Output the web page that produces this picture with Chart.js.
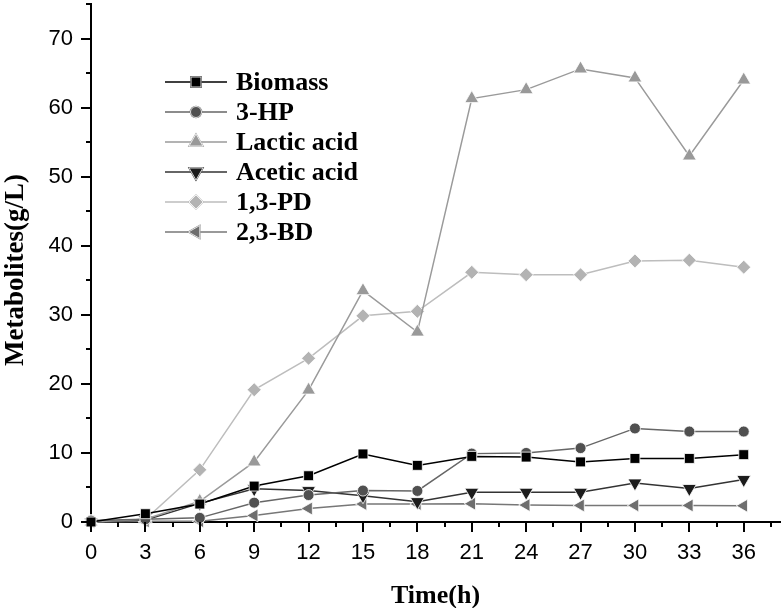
<!DOCTYPE html>
<html lang="en">
<head>
  <meta charset="UTF-8">
  <title>Metabolites over time</title>
  <script src="https://cdn.jsdelivr.net/npm/chart.js"></script>
  <style>
    body { margin: 0; background: #fff; }
    canvas { display: block; }
  </style>
</head>
<body>
  <canvas id="graph" width="783" height="608"></canvas>

  <script>
    // values
    const hours = [0, 3, 6, 9, 12, 15, 18, 21, 24, 27, 30, 33, 36];
    const biomass = [0, 1.2, 2.6, 5.2, 6.7, 9.85, 8.2, 9.5, 9.4, 8.7, 9.2, 9.2, 9.75];
    const hp3 = [0.2, 0.4, 0.6, 2.8, 3.9, 4.55, 4.5, 9.9, 10.0, 10.7, 13.55, 13.1, 13.1];
    const lactic = [0, 0.4, 3.0, 8.7, 19.1, 33.5, 27.5, 61.3, 62.6, 65.6, 64.3, 53.0, 64.0];
    const acetic = [0, 0.3, 2.7, 4.8, 4.55, 3.8, 2.95, 4.3, 4.3, 4.3, 5.65, 4.85, 6.15];
    const pd13 = [0, 0.4, 7.55, 19.15, 23.7, 29.85, 30.5, 36.15, 35.8, 35.8, 37.8, 37.9, 36.9];
    const bd23 = [0, 0.1, 0.1, 0.95, 1.95, 2.6, 2.6, 2.65, 2.45, 2.4, 2.4, 2.4, 2.35];

    const xTicks = [0, 3, 6, 9, 12, 15, 18, 21, 24, 27, 30, 33, 36];
    const yTicks = [0, 10, 20, 30, 40, 50, 60, 70];
    const yTitle = 'Metabolites(g/L)';

    const serif = '"Liberation Serif", "Times New Roman", serif';
    const sans = '"Liberation Sans", Arial, sans-serif';

    function serie(label, values, line, fill, style, radius, rotation) {
      return {
        label: label,
        data: hours.map((h, i) => ({ x: h, y: values[i] })),
        borderColor: line,
        borderWidth: 1.5,
        pointStyle: style,
        pointRadius: radius,
        pointRotation: rotation || 0,
        pointBackgroundColor: fill,
        pointBorderColor: '#fff',
        pointBorderWidth: 0.8,
        tension: 0,
        clip: false
      };
    }

    const datasets = [
      serie('Biomass', biomass, '#000', '#000', 'rect', 7),
      serie('3-HP', hp3, '#666', '#505050', 'circle', 5.5),
      serie('Lactic acid', lactic, '#9a9a9a', '#999', 'triangle', 8),
      serie('Acetic acid', acetic, '#333', '#1c1c1c', 'triangle', 8, 180),
      serie('1,3-PD', pd13, '#bdbdbd', '#b3b3b3', 'rectRot', 7),
      serie('2,3-BD', bd23, '#777', '#6e6e6e', 'triangle', 7.5, 270)
    ];

    // tick marks (major + minor) drawn on the outside of the axes, plus y title
    const tickMarks = {
      id: 'tickMarks',
      afterDraw(chart) {
        const ctx = chart.ctx;
        const xs = chart.scales.x, ys = chart.scales.y;
        const area = chart.chartArea;
        ctx.save();
        ctx.strokeStyle = '#000';
        ctx.lineWidth = 2;
        ctx.beginPath();
        xTicks.forEach(v => {
          const px = Math.round(xs.getPixelForValue(v));
          ctx.moveTo(px, area.bottom); ctx.lineTo(px, area.bottom + 10);
          const m = v + 1.5;
          if (m <= xs.max) {
            const pm = Math.round(xs.getPixelForValue(m));
            ctx.moveTo(pm, area.bottom); ctx.lineTo(pm, area.bottom + 5);
          }
        });
        yTicks.forEach(v => {
          const py = Math.round(ys.getPixelForValue(v));
          ctx.moveTo(area.left, py); ctx.lineTo(area.left - 10, py);
          const m = v + 5;
          if (m <= ys.max) {
            const pm = Math.round(ys.getPixelForValue(m));
            ctx.moveTo(area.left, pm); ctx.lineTo(area.left - 5, pm);
          }
        });
        ctx.stroke();

        // y title, sits a little lower than the plot centre in the original
        ctx.translate(16, 270);
        ctx.rotate(-Math.PI / 2);
        ctx.fillStyle = '#000';
        ctx.font = 'bold 27px ' + serif;
        ctx.textAlign = 'center';
        ctx.textBaseline = 'middle';
        ctx.fillText(yTitle, 0, 0);
        ctx.restore();
      }
    };

    // legend inside the plot, top left
    const legendBox = {
      id: 'legendBox',
      afterDraw(chart) {
        const ctx = chart.ctx;
        ctx.save();
        chart.data.datasets.forEach((ds, i) => {
          const y = 82 + i * 30;
          ctx.strokeStyle = ds.borderColor;
          ctx.lineWidth = 1.5;
          ctx.beginPath();
          ctx.moveTo(165, y); ctx.lineTo(227, y);
          ctx.stroke();
          Chart.helpers.drawPoint(ctx, {
            pointStyle: ds.pointStyle,
            radius: ds.pointRadius,
            rotation: ds.pointRotation,
            borderWidth: ds.pointBorderWidth
          }, 196, y);
          ctx.fillStyle = ds.pointBackgroundColor;
          ctx.strokeStyle = ds.pointBorderColor;
          ctx.lineWidth = ds.pointBorderWidth;
          ctx.fill();
          ctx.stroke();
          ctx.fillStyle = '#000';
          ctx.font = 'bold 26px ' + serif;
          ctx.textBaseline = 'middle';
          ctx.textAlign = 'left';
          ctx.fillText(ds.label, 236, y + 1);
        });
        ctx.restore();
      }
    };

    new Chart(document.getElementById('graph').getContext('2d'), {
      type: 'line',
      data: { datasets: datasets },
      options: {
        responsive: false,
        animation: false,
        layout: { autoPadding: false, padding: { top: 4, right: 3, left: 0, bottom: 0 } },
        plugins: { legend: { display: false }, tooltip: { enabled: false } },
        scales: {
          x: {
            type: 'linear',
            min: 0,
            max: 38,
            afterBuildTicks: s => { s.ticks = xTicks.map(v => ({ value: v })); },
            afterFit: s => { s.height = 86; s.paddingLeft = 0; s.paddingRight = 0; },
            grid: { display: false, drawTicks: false },
            border: { display: true, color: '#000', width: 2 },
            ticks: { font: { family: sans, size: 22 }, color: '#000', padding: 18, maxRotation: 0 },
            title: { display: true, text: 'Time(h)', color: '#000', font: { family: serif, size: 26, weight: 'bold' }, padding: { top: 0, bottom: -4 } }
          },
          y: {
            min: 0,
            max: 75,
            afterBuildTicks: s => { s.ticks = yTicks.map(v => ({ value: v })); },
            afterFit: s => { s.width = 91; s.paddingTop = 0; s.paddingBottom = 0; },
            grid: { display: false, drawTicks: false },
            border: { display: true, color: '#000', width: 2 },
            ticks: { font: { family: sans, size: 22 }, color: '#000', padding: 18 },
            title: { display: false }
          }
        }
      },
      plugins: [tickMarks, legendBox]
    });
  </script>
</body>
</html>
